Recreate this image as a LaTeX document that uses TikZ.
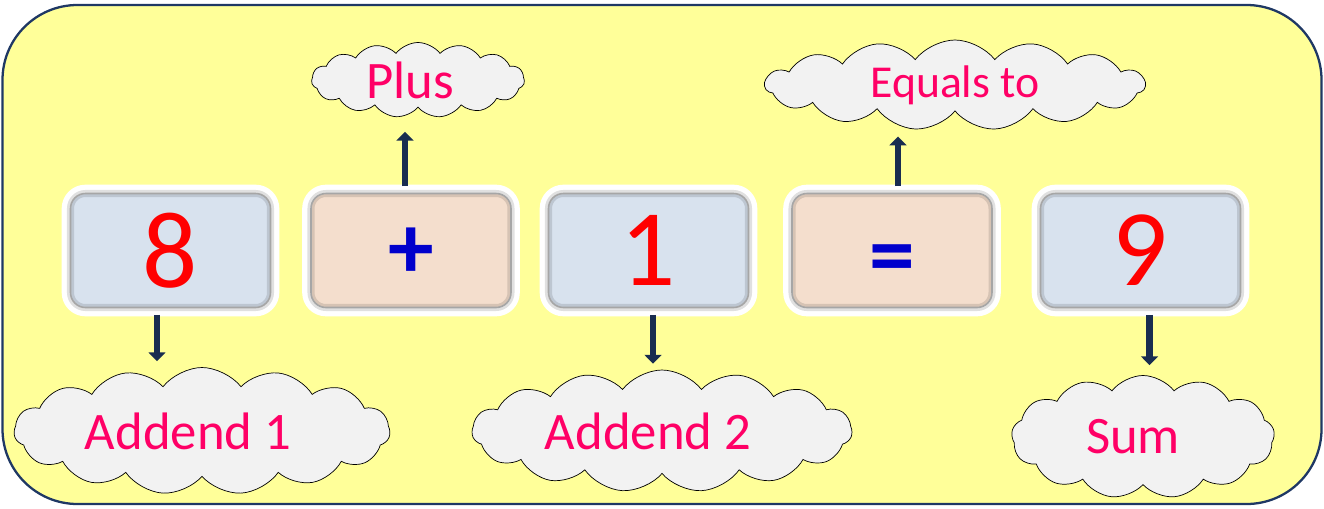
\documentclass[tikz,border=0pt]{standalone}
\usepackage{fontspec}
\setmainfont{Carlito}
\usetikzlibrary{shapes.symbols}
\usetikzlibrary{arrows.meta}
\definecolor{panelfill}{HTML}{FFFF99}
\definecolor{paneledge}{HTML}{1F3864}
\definecolor{numbox}{HTML}{D8E2EE}
\definecolor{opbox}{HTML}{F4DECD}
\definecolor{cloudfill}{HTML}{F2F2F2}
\definecolor{labelpink}{HTML}{FF0066}
\definecolor{numred}{HTML}{FF0000}
\definecolor{opblue}{HTML}{0000CC}
\tikzset{>={Triangle[width=9.5pt,length=5pt]}}
\tikzset{
	tile/.style={rounded corners=8.5pt, minimum width=4.0cm, minimum height=2.28cm,
		preaction={draw=white, line width=10pt},
		postaction={draw=black, draw opacity=.12, line width=4pt},
		postaction={draw=gray!70, line width=.9pt}},
	numtile/.style={tile, fill=numbox, text=numred, font=\fontsize{62}{62}\selectfont},
	optile/.style={tile, fill=opbox, text=opblue, font=\fontsize{52}{52}\selectfont\bfseries},
	bubble/.style={cloud, cloud puffs=15, cloud puff arc=105, cloud ignores aspect, draw=black, thin,
		fill=cloudfill, text=labelpink, inner sep=0pt, font=\fontsize{30}{30}\selectfont},
	pointer/.style={->, draw=paneledge!80!black, line width=3.6pt}
}

\begin{document}
\begin{tikzpicture}
		\useasboundingbox (0,0) rectangle (26.48,-10.16);
		\draw[fill=panelfill, draw=paneledge, line width=1.3pt, rounded corners=1.5cm]
			(0.05,-0.1) rectangle (26.43,-10.08);

		% the sum
		\node[numtile] (eight) at (3.41,-5.01) {8};
		\node[optile] (plus) at (8.22,-5.01) {\raisebox{-.06cm}[\height][\depth]{+}};
		\node[numtile] (one) at (12.97,-5.01) {1};
		\node[optile] (equals) at (17.84,-5.01) {\raisebox{-.3cm}[\height][\depth]{=}};
		\node[numtile] (nine) at (22.81,-5.01) {9};

		% the names
		\node[bubble, minimum width=4.26cm, minimum height=1.5cm] (plus_label) at (8.36,-1.6) {\hspace*{-.32cm}Plus};
		\node[bubble, minimum width=7.6cm, minimum height=1.8cm, font=\fontsize{26}{26}\selectfont] (equals_label) at (19.1,-1.7) {Equals to};
		\node[bubble, minimum width=7.52cm, minimum height=2.54cm] (addend_1_label) at (4.04,-8.62) {\hspace*{-.56cm}Addend 1};
		\node[bubble, minimum width=7.6cm, minimum height=2.44cm] (addend_2_label) at (13.24,-8.62) {\hspace*{-.56cm}Addend 2};
		\node[bubble, cloud puffs=13, minimum width=5.26cm, minimum height=2.46cm] (sum_label) at (22.86,-8.74) {\hspace*{-.4cm}Sum};

		\draw[pointer, shorten <=.14cm, shorten >=.12cm] ([xshift=-.27cm]eight.south) -- ([xshift=-.27cm]eight.south |- addend_1_label.north);
		\draw[pointer, shorten <=.14cm, shorten >=.48cm] ([xshift=-.12cm]plus.north) -- ([xshift=-.12cm]plus.north |- plus_label.south);
		\draw[pointer, shorten <=.14cm, shorten >=.12cm] ([xshift=.09cm]one.south) -- ([xshift=.09cm]one.south |- addend_2_label.north);
		\draw[pointer, shorten <=.14cm, shorten >=.5cm] ([xshift=.12cm]equals.north) -- ([xshift=.12cm]equals.north |- equals_label.south);
		\draw[pointer, shorten <=.14cm, shorten >=.2cm] ([xshift=.18cm]nine.south) -- ([xshift=.18cm]nine.south |- sum_label.north);
\end{tikzpicture}
\end{document}
